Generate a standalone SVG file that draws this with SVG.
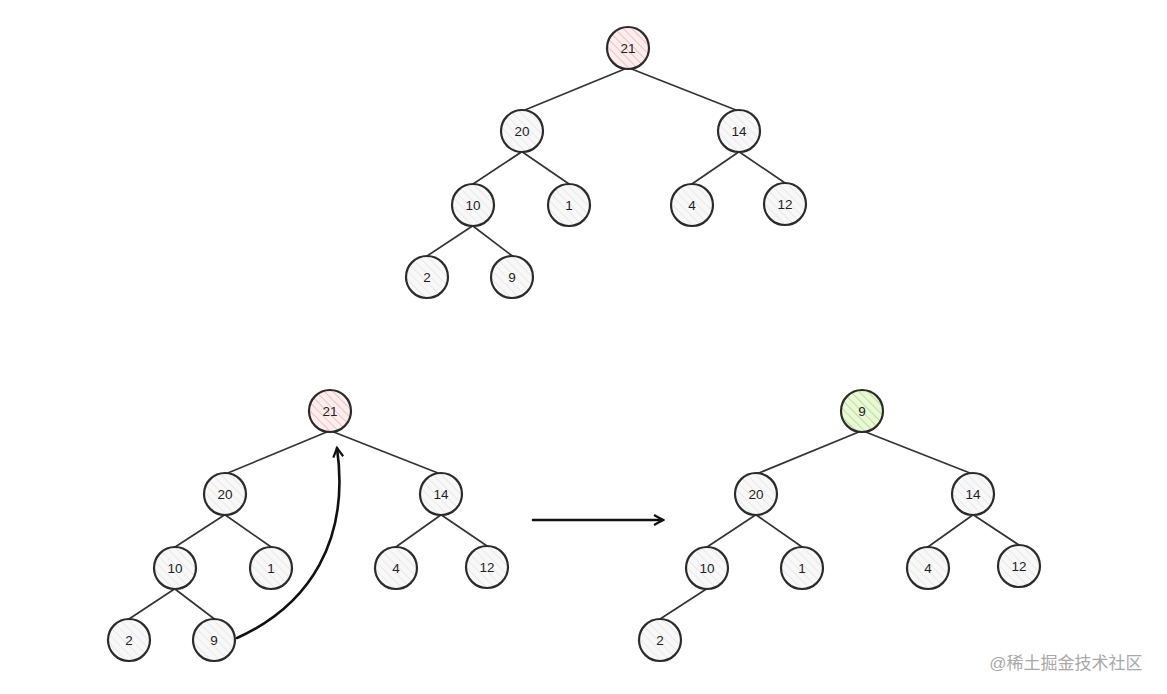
<svg xmlns="http://www.w3.org/2000/svg" width="1167" height="694" viewBox="0 0 1167 694">
<defs>
<pattern id="hg" width="6" height="6" patternUnits="userSpaceOnUse" patternTransform="rotate(-45)">
<rect width="6" height="6" fill="#f8f8f8"/>
<line x1="0" y1="0" x2="0" y2="6" stroke="#e0e0e0" stroke-width="1.2"/>
</pattern>
<pattern id="hr" width="6" height="6" patternUnits="userSpaceOnUse" patternTransform="rotate(-45)">
<rect width="6" height="6" fill="#fdeeee"/>
<line x1="0" y1="0" x2="0" y2="6" stroke="#f2b8be" stroke-width="1.8"/>
</pattern>
<pattern id="hgr" width="6" height="6" patternUnits="userSpaceOnUse" patternTransform="rotate(-45)">
<rect width="6" height="6" fill="#eaf7d8"/>
<line x1="0" y1="0" x2="0" y2="6" stroke="#bde38f" stroke-width="2.2"/>
</pattern>
<marker id="ah2" viewBox="0 0 12 12" refX="10" refY="6" markerWidth="12" markerHeight="12" orient="auto" markerUnits="userSpaceOnUse">
<path d="M1,1 L10,6 L1,11" fill="none" stroke="#111" stroke-width="2.2"/>
</marker>
</defs>
<style>
.e{stroke:#333;stroke-width:1.7;fill:none;stroke-linecap:round}
.n circle{stroke:#2b2b2b;stroke-width:2.2}
.g circle{fill:url(#hg)}
.r circle{fill:url(#hr)}
.gr circle{fill:url(#hgr)}
.n text{font-family:"Liberation Sans",Arial,sans-serif;font-size:13.5px;fill:#1e1e1e;text-anchor:middle;dominant-baseline:central}
.arr{stroke:#111;stroke-width:2.6;fill:none;stroke-linecap:round}
</style>
<rect width="1167" height="694" fill="#ffffff"/>
<g id="connectors">
<!-- top tree -->
<line class="e" x1="632" y1="66" x2="520" y2="112"/>
<line class="e" x1="624" y1="66" x2="741" y2="112"/>
<line class="e" x1="526" y1="149" x2="470" y2="186"/>
<line class="e" x1="518" y1="149" x2="572" y2="186"/>
<line class="e" x1="743" y1="149" x2="689" y2="186"/>
<line class="e" x1="735" y1="149" x2="788" y2="185"/>
<line class="e" x1="477" y1="223" x2="424" y2="258"/>
<line class="e" x1="469" y1="223" x2="515" y2="258"/>
<!-- bottom left -->
<line class="e" x1="334" y1="429" x2="223" y2="475"/>
<line class="e" x1="326" y1="429" x2="443" y2="475"/>
<line class="e" x1="229" y1="512" x2="172" y2="549"/>
<line class="e" x1="221" y1="512" x2="274" y2="549"/>
<line class="e" x1="445" y1="512" x2="393" y2="549"/>
<line class="e" x1="437" y1="512" x2="490" y2="548"/>
<line class="e" x1="179" y1="586" x2="126" y2="621"/>
<line class="e" x1="171" y1="586" x2="217" y2="621"/>
<!-- bottom right -->
<line class="e" x1="866" y1="429" x2="754" y2="475"/>
<line class="e" x1="858" y1="429" x2="975" y2="475"/>
<line class="e" x1="760" y1="512" x2="704" y2="549"/>
<line class="e" x1="752" y1="512" x2="805" y2="549"/>
<line class="e" x1="977" y1="512" x2="925" y2="549"/>
<line class="e" x1="969" y1="512" x2="1022" y2="547"/>
<line class="e" x1="711" y1="586" x2="657" y2="621"/>
</g>
<g id="t-21" class="n r"><circle cx="628" cy="48" r="21"/><text x="628" y="48">21</text></g>
<g id="t-20" class="n g"><circle cx="522" cy="131" r="21"/><text x="522" y="131">20</text></g>
<g id="t-14" class="n g"><circle cx="739" cy="131" r="21"/><text x="739" y="131">14</text></g>
<g id="t-10" class="n g"><circle cx="473" cy="205" r="21"/><text x="473" y="205">10</text></g>
<g id="t-1" class="n g"><circle cx="569" cy="205" r="21"/><text x="569" y="205">1</text></g>
<g id="t-4" class="n g"><circle cx="692" cy="205" r="21"/><text x="692" y="205">4</text></g>
<g id="t-12" class="n g"><circle cx="785" cy="204" r="21"/><text x="785" y="204">12</text></g>
<g id="t-2" class="n g"><circle cx="427" cy="277" r="21"/><text x="427" y="277">2</text></g>
<g id="t-9" class="n g"><circle cx="512" cy="277" r="21"/><text x="512" y="277">9</text></g>

<g id="l-21" class="n r"><circle cx="330" cy="411" r="21"/><text x="330" y="411">21</text></g>
<g id="l-20" class="n g"><circle cx="225" cy="494" r="21"/><text x="225" y="494">20</text></g>
<g id="l-14" class="n g"><circle cx="441" cy="494" r="21"/><text x="441" y="494">14</text></g>
<g id="l-10" class="n g"><circle cx="175" cy="568" r="21"/><text x="175" y="568">10</text></g>
<g id="l-1" class="n g"><circle cx="271" cy="568" r="21"/><text x="271" y="568">1</text></g>
<g id="l-4" class="n g"><circle cx="396" cy="568" r="21"/><text x="396" y="568">4</text></g>
<g id="l-12" class="n g"><circle cx="487" cy="567" r="21"/><text x="487" y="567">12</text></g>
<g id="l-2" class="n g"><circle cx="129" cy="640" r="21"/><text x="129" y="640">2</text></g>
<g id="l-9" class="n g"><circle cx="214" cy="640" r="21"/><text x="214" y="640">9</text></g>

<g id="r-9" class="n gr"><circle cx="862" cy="411" r="21"/><text x="862" y="411">9</text></g>
<g id="r-20" class="n g"><circle cx="756" cy="494" r="21"/><text x="756" y="494">20</text></g>
<g id="r-14" class="n g"><circle cx="973" cy="494" r="21"/><text x="973" y="494">14</text></g>
<g id="r-10" class="n g"><circle cx="707" cy="568" r="21"/><text x="707" y="568">10</text></g>
<g id="r-1" class="n g"><circle cx="802" cy="568" r="21"/><text x="802" y="568">1</text></g>
<g id="r-4" class="n g"><circle cx="928" cy="568" r="21"/><text x="928" y="568">4</text></g>
<g id="r-12" class="n g"><circle cx="1019" cy="566" r="21"/><text x="1019" y="566">12</text></g>
<g id="r-2" class="n g"><circle cx="660" cy="640" r="21"/><text x="660" y="640">2</text></g>

<g id="arrows">
<path class="arr" d="M237,638 C310,605 350,540 337,448" marker-end="url(#ah2)"/>
<path class="arr" d="M533,520 L663,520" marker-end="url(#ah2)"/>
</g>
<text x="1066" y="669" font-family="'Liberation Sans','Noto Sans CJK SC',sans-serif" font-size="17" fill="#a8a8a8" text-anchor="middle">@稀土掘金技术社区</text>
</svg>
